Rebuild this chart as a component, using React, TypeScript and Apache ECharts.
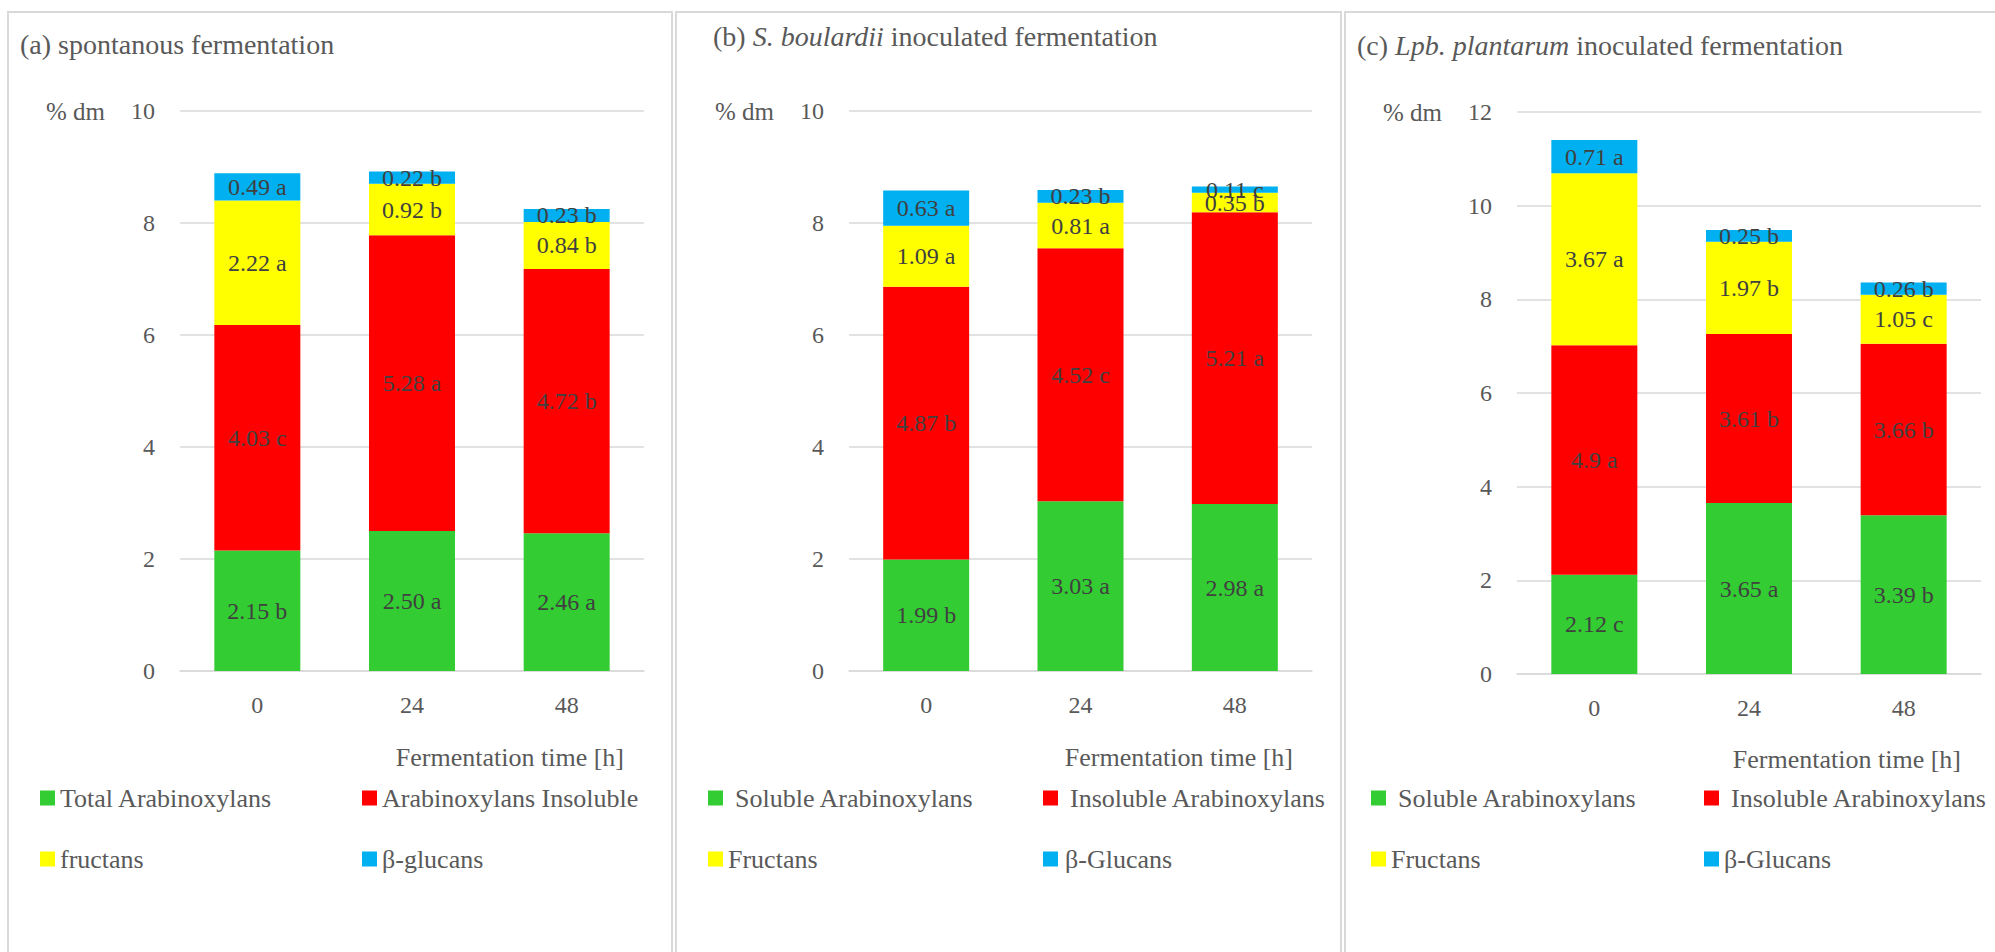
import React, { useEffect, useRef } from 'react';
import * as echarts from 'echarts';

const FONT = "'Liberation Serif', 'Times New Roman', serif";
const TXT = '#595959';
const LBL = '#404040';
const GRIDC = '#d9d9d9';

const times = ['0', '24', '48'];
const xAxisName = 'Fermentation time [h]';
const yAxisName = '% dm';

// (a) spontanous fermentation
const aTotalAX = [2.15, 2.5, 2.46];
const aTotalAXLbl = ['2.15 b', '2.50 a', '2.46 a'];
const aInsolAX = [4.03, 5.28, 4.72];
const aInsolAXLbl = ['4.03 c', '5.28 a', '4.72 b'];
const aFructans = [2.22, 0.92, 0.84];
const aFructansLbl = ['2.22 a', '0.92 b', '0.84 b'];
const aBeta = [0.49, 0.22, 0.23];
const aBetaLbl = ['0.49 a', '0.22 b', '0.23 b'];
const aNames = ['Total Arabinoxylans', 'Arabinoxylans Insoluble', 'fructans', 'β-glucans'];

// (b) S. boulardii inoculated fermentation
const bSolAX = [1.99, 3.03, 2.98];
const bSolAXLbl = ['1.99 b', '3.03 a', '2.98 a'];
const bInsolAX = [4.87, 4.52, 5.21];
const bInsolAXLbl = ['4.87 b', '4.52 c', '5.21 a'];
const bFructans = [1.09, 0.81, 0.35];
const bFructansLbl = ['1.09 a', '0.81 a', '0.35 b'];
const bBeta = [0.63, 0.23, 0.11];
const bBetaLbl = ['0.63 a', '0.23 b', '0.11 c'];

// (c) Lpb. plantarum inoculated fermentation
const cSolAX = [2.12, 3.65, 3.39];
const cSolAXLbl = ['2.12 c', '3.65 a', '3.39 b'];
const cInsolAX = [4.9, 3.61, 3.66];
const cInsolAXLbl = ['4.9 a', '3.61 b', '3.66 b'];
const cFructans = [3.67, 1.97, 1.05];
const cFructansLbl = ['3.67 a', '1.97 b', '1.05 c'];
const cBeta = [0.71, 0.25, 0.26];
const cBetaLbl = ['0.71 a', '0.25 b', '0.26 b'];
const bcNames = ['Soluble Arabinoxylans', 'Insoluble Arabinoxylans', 'Fructans', 'β-Glucans'];

const colors = ['#33CC33', '#FF0000', '#FFFF00', '#00B0F0'];
const yMax = [10, 10, 12];

function bar(name: string, data: number[], labels: string[], idx: number, color: string) {
  return {
    type: 'bar',
    name,
    stack: 'panel' + idx,
    xAxisIndex: idx,
    yAxisIndex: idx,
    data,
    barWidth: 86,
    itemStyle: { color },
    emphasis: { disabled: true },
    label: {
      show: true,
      position: 'inside',
      formatter: (p: any) => labels[p.dataIndex],
      color: LBL,
      fontFamily: FONT,
      fontSize: 24,
    },
  };
}

export default function App() {
  const ref = useRef<HTMLDivElement>(null);
  useEffect(() => {
    if (!ref.current) return;
    const chart = echarts.init(ref.current, undefined, { renderer: 'svg' });
    const grids = [
      { left: 180, top: 111, width: 464, height: 560 },
      { left: 849, top: 111, width: 463, height: 560 },
      { left: 1517, top: 112, width: 464, height: 562 },
    ];
    const xAxes = grids.map((_, i) => ({
      type: 'category',
      gridIndex: i,
      data: times,
      axisTick: { show: false },
      axisLine: { show: true, lineStyle: { color: GRIDC, width: 1.5 } },
      axisLabel: { color: TXT, fontFamily: FONT, fontSize: 24, margin: 22 },
    }));
    const yAxes = grids.map((_, i) => ({
      type: 'value',
      gridIndex: i,
      min: 0,
      max: yMax[i],
      interval: 2,
      axisLine: { show: false },
      axisTick: { show: false },
      splitLine: { lineStyle: { color: GRIDC, width: 1.5 } },
      axisLabel: { color: TXT, fontFamily: FONT, fontSize: 24, margin: 25 },
      name: yAxisName,
      nameLocation: 'end',
      nameGap: 0,
      nameTextStyle: {
        color: TXT,
        fontFamily: FONT,
        fontSize: 25,
        align: 'right',
        verticalAlign: 'middle',
        padding: [0, 75, 0, 0],
      },
    }));
    const series = [
      bar(aNames[0], aTotalAX, aTotalAXLbl, 0, colors[0]),
      bar(aNames[1], aInsolAX, aInsolAXLbl, 0, colors[1]),
      bar(aNames[2], aFructans, aFructansLbl, 0, colors[2]),
      bar(aNames[3], aBeta, aBetaLbl, 0, colors[3]),
      bar(bcNames[0], bSolAX, bSolAXLbl, 1, colors[0]),
      bar(bcNames[1], bInsolAX, bInsolAXLbl, 1, colors[1]),
      bar(bcNames[2], bFructans, bFructansLbl, 1, colors[2]),
      bar(bcNames[3], bBeta, bBetaLbl, 1, colors[3]),
      bar(bcNames[0], cSolAX, cSolAXLbl, 2, colors[0]),
      bar(bcNames[1], cInsolAX, cInsolAXLbl, 2, colors[1]),
      bar(bcNames[2], cFructans, cFructansLbl, 2, colors[2]),
      bar(bcNames[3], cBeta, cBetaLbl, 2, colors[3]),
    ];
    const legendBase = {
      orient: 'vertical',
      top: 778,
      itemGap: 31,
      itemWidth: 15,
      itemHeight: 15,
      icon: 'rect',
      selectedMode: false,
      textStyle: { color: TXT, fontFamily: FONT, fontSize: 26, lineHeight: 30 },
    };
    const pad = { padding: [0, 0, 0, 7] };
    const legends = [
      { ...legendBase, left: 35, data: [aNames[0], aNames[2]] },
      { ...legendBase, left: 357, data: [aNames[1], aNames[3]] },
      { ...legendBase, left: 703, data: [{ name: bcNames[0], textStyle: pad }, bcNames[2]] },
      { ...legendBase, left: 1038, data: [{ name: bcNames[1], textStyle: pad }, { name: bcNames[3], textStyle: { padding: [0, 0, 0, 2] } }] },
      { ...legendBase, left: 1366, data: [{ name: bcNames[0], textStyle: pad }, bcNames[2]] },
      { ...legendBase, left: 1699, data: [{ name: bcNames[1], textStyle: pad }, bcNames[3]] },
    ];
    const tStyle = { color: TXT, fontFamily: FONT, fontSize: 28, fontWeight: 'normal' };
    const rich = {
      n: { color: TXT, fontFamily: FONT, fontSize: 28 },
      i: { color: TXT, fontFamily: FONT, fontSize: 28, fontStyle: 'italic' },
    };
    const titles = [
      { text: '(a) spontanous fermentation', left: 15, top: 25, textStyle: tStyle },
      { text: '{n|(b) }{i|S. boulardii}{n| inoculated fermentation}', left: 708, top: 17, textStyle: { ...tStyle, rich } },
      { text: '{n|(c) }{i|Lpb. plantarum}{n| inoculated fermentation}', left: 1352, top: 26, textStyle: { ...tStyle, rich } },
    ];
    const border = (x: number, w: number) => ({
      type: 'rect',
      silent: true,
      shape: { x, y: 12, width: w, height: 980 },
      style: { fill: 'none', stroke: GRIDC, lineWidth: 2 },
    });
    const axisName = (right: number, y: number) => ({
      type: 'text',
      silent: true,
      x: right,
      y,
      style: {
        text: xAxisName,
        fill: TXT,
        font: `26px ${FONT}`,
        textAlign: 'right',
        textVerticalAlign: 'middle',
        align: 'right',
        verticalAlign: 'middle',
      },
    });
    chart.setOption({
      animation: false,
      backgroundColor: '#ffffff',
      title: titles,
      grid: grids,
      xAxis: xAxes,
      yAxis: yAxes,
      legend: legends,
      series,
      graphic: [
        border(8, 664),
        border(676, 665),
        border(1345, 680),
        axisName(624, 757),
        axisName(1293, 757),
        axisName(1961, 759),
      ],
    });
    return () => chart.dispose();
  }, []);
  return <div ref={ref} style={{ position: 'fixed', left: 0, top: 0, width: 1995, height: 952 }} />;
}
